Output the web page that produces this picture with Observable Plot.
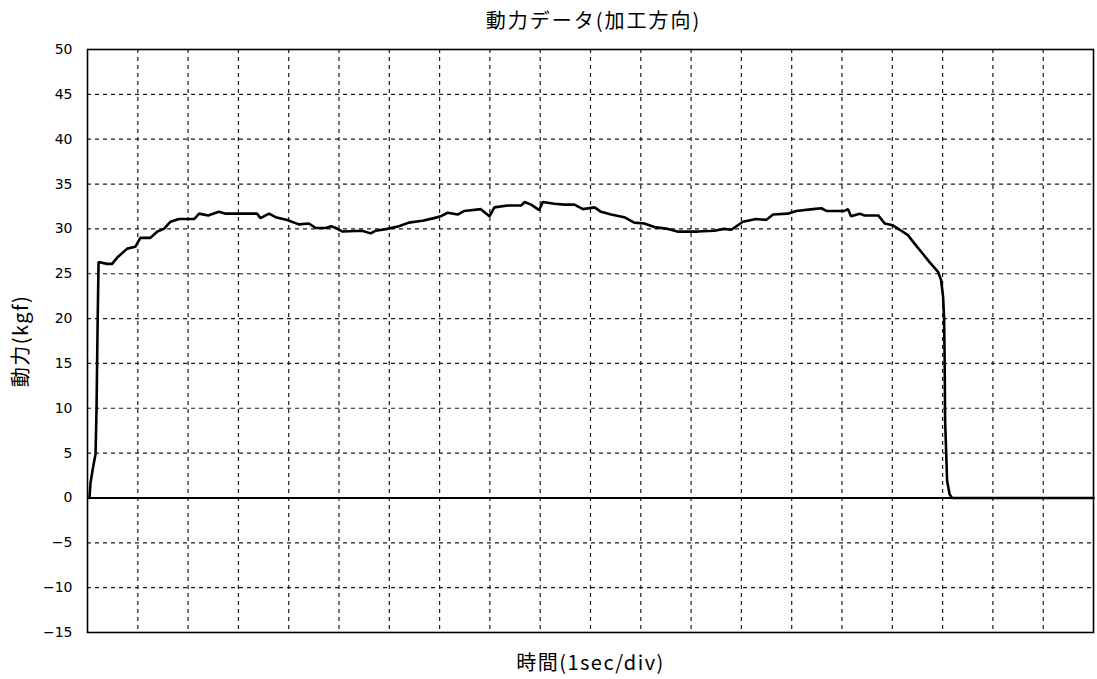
<!DOCTYPE html>
<html>
<head>
<meta charset="utf-8">
<script src="https://cdn.jsdelivr.net/npm/d3@7"></script>
<script src="https://cdn.jsdelivr.net/npm/@observablehq/plot@0.6"></script>
<style>
  html, body { margin: 0; padding: 0; background: #fff; overflow: hidden; }
  #title { height: 40px; line-height: 40px; text-align: center; font-family: "Noto Sans CJK JP", sans-serif; font-size: 20px; letter-spacing: 2px; color: #000; padding-left: 90px; box-sizing: border-box; width: 1097px; }
  #chart svg { display: block; }
</style>
</head>
<body>
<div id="title">動力データ(加工方向)</div>
<div id="chart"></div>
<script>
const chartTitle = "動力データ(加工方向)";
const xLabel = "時間(1sec/div)";
const yLabel = "動力(kgf)";

// time (s)
const timeSec = [
  0.04, 0.06, 0.11, 0.16, 0.18, 0.20, 0.22, 0.39, 0.49, 0.59, 0.79, 0.95, 1.05, 1.25, 1.39, 1.52, 1.65, 1.82, 2.12,
  2.22, 2.40, 2.61, 2.75, 3.37, 3.44, 3.61, 3.74, 3.97, 4.20, 4.40, 4.54, 4.74, 4.84, 4.94, 5.07, 5.46, 5.63, 5.73,
  5.96, 6.19, 6.39, 6.66, 6.89, 7.02, 7.16, 7.36, 7.49, 7.82, 7.99, 8.09, 8.35, 8.62, 8.69, 8.82, 8.98, 9.05, 9.28,
  9.48, 9.68, 9.85, 10.08, 10.21, 10.41, 10.67, 10.87, 11.07, 11.27, 11.54, 11.73, 12.13, 12.46, 12.66, 12.80, 13.03,
  13.29, 13.49, 13.63, 13.92, 14.09, 14.42, 14.59, 14.69, 15.05, 15.12, 15.18, 15.35, 15.45, 15.72, 15.85, 16.01,
  16.15, 16.31, 16.45, 16.61, 16.74, 16.91, 16.97, 17.01, 17.03, 17.04, 17.05, 17.09, 17.14, 17.19, 20.0
];
// force (kgf)
const forceKgf = [
  0, 1.7, 3.4, 4.9, 10, 19, 26.3, 26.1, 26.1, 26.8, 27.8, 28.0, 29.0, 29.0, 29.7, 30.0, 30.8, 31.1, 31.1,
  31.7, 31.5, 31.9, 31.7, 31.7, 31.2, 31.7, 31.3, 31.0, 30.5, 30.6, 30.1, 30.1, 30.3, 30.1, 29.7, 29.8, 29.5, 29.8,
  30.0, 30.3, 30.7, 30.9, 31.2, 31.4, 31.8, 31.6, 32.0, 32.2, 31.4, 32.4, 32.6, 32.6, 33.0, 32.7, 32.1, 33.0, 32.8,
  32.7, 32.7, 32.2, 32.4, 31.9, 31.6, 31.3, 30.7, 30.6, 30.2, 30.0, 29.7, 29.7, 29.8, 30.0, 29.9, 30.8,
  31.1, 31.0, 31.6, 31.7, 32.0, 32.2, 32.3, 32.0, 32.0, 32.2, 31.4, 31.7, 31.5, 31.5, 30.6, 30.4,
  29.9, 29.3, 28.3, 27.2, 26.3, 25.2, 24.3, 22.4, 20.0, 15.7, 8.6, 1.9, 0.4, 0, 0
];

const yTicks = [50, 45, 40, 35, 30, 25, 20, 15, 10, 5, 0, -5, -10, -15];
const xGridTicks = [1, 2, 3, 4, 5, 6, 7, 8, 9, 10, 11, 12, 13, 14, 15, 16, 17, 18, 19];

const data = timeSec.map((t, i) => ({t, v: forceKgf[i]}));

const plot = Plot.plot({
  width: 1097,
  height: 639,
  marginTop: 9,
  marginBottom: 47,
  marginLeft: 87,
  marginRight: 4,
  style: {fontFamily: "DejaVu Sans, sans-serif", fontSize: "14px", background: "#fff", color: "#000"},
  x: {domain: [0, 20], axis: null},
  y: {domain: [-15, 50], axis: null},
  marks: [
    Plot.gridX({ticks: xGridTicks, stroke: "#1a1a1a", strokeOpacity: 1, strokeWidth: 1.2, strokeDasharray: "4,4"}),
    Plot.gridY({ticks: yTicks.filter(d => d !== 0 && d !== 50 && d !== -15), stroke: "#1a1a1a", strokeOpacity: 1, strokeWidth: 1.2, strokeDasharray: "4,4"}),
    Plot.axisY({ticks: yTicks, tickSize: 0, tickPadding: 15, label: null, fontSize: 14}),
    Plot.ruleY([0], {stroke: "#000", strokeWidth: 2}),
    Plot.line(data, {x: "t", y: "v", stroke: "#000", strokeWidth: 2.6, strokeLinejoin: "miter"}),
    Plot.frame({stroke: "#000", strokeWidth: 1.6}),
    Plot.text([xLabel], {frameAnchor: "bottom", dy: 31, lineAnchor: "middle", textAnchor: "middle", fontFamily: "Noto Sans CJK JP", fontSize: 20, fill: "#000"}),
    Plot.text([yLabel], {frameAnchor: "left", dx: -66, rotate: -90, lineAnchor: "middle", textAnchor: "middle", fontFamily: "Noto Sans CJK JP", fontSize: 20, fill: "#000"})
  ]
});

d3.select(plot).selectAll("text").filter(function() {
  const s = this.textContent;
  return s === xLabel || s === yLabel;
}).attr("letter-spacing", "1.5px");

document.getElementById("chart").appendChild(plot);
</script>
</body>
</html>
